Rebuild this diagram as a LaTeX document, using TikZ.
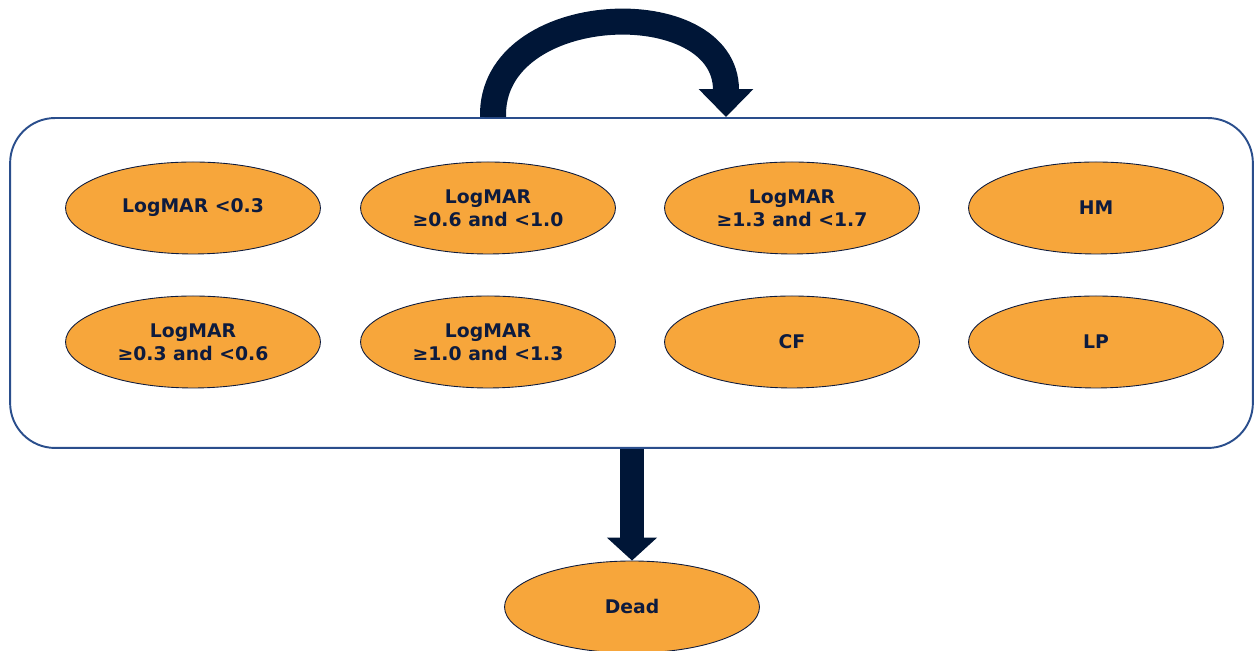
\documentclass[tikz,border=0pt]{standalone}
\usepackage{fontspec}
\setmainfont{DejaVu Sans}
\usetikzlibrary{shapes.geometric,arrows.meta}

\definecolor{stateorange}{HTML}{F7A63B}
\definecolor{navytext}{HTML}{0D1B3E}
\definecolor{arrownavy}{HTML}{001637}
\definecolor{panelblue}{HTML}{2A4E8C}

\tikzset{
  visionstate/.style={ellipse, draw=navytext, line width=0.5pt, fill=stateorange,
    minimum width=5.1cm, minimum height=1.84cm, inner sep=0pt, align=center,
    text=navytext, font=\fontsize{10.7}{13}\selectfont\bfseries},
  bigarrow/.style={draw=arrownavy, line width=#1}
}

\begin{document}
\begin{tikzpicture}[x=0.02cm, y=0.02cm]
    \useasboundingbox (0,0) rectangle (1258,651);

    % outer panel
    \node[draw=panelblue, line width=1.1pt, rounded corners=0.9cm,
          minimum width=24.86cm, minimum height=6.6cm] (panel) at (631.5,368) {};

    % first row
    \node[visionstate] (lt03)   at (193,443) {LogMAR \textless0.3};
    \node[visionstate] (l06)    at (488,443) {LogMAR\\≥0.6 and \textless1.0};
    \node[visionstate] (l13)    at (792,443) {LogMAR\\≥1.3 and \textless1.7};
    \node[visionstate] (hm)     at (1096,443) {HM};

    % second row
    \node[visionstate] (l03)    at (193,309) {LogMAR\\≥0.3 and \textless0.6};
    \node[visionstate] (l10)    at (488,309) {LogMAR\\≥1.0 and \textless1.3};
    \node[visionstate] (cf)     at (792,309) {CF};
    \node[visionstate] (lp)     at (1096,309) {LP};

    \node[visionstate] (dead)   at (632,44) {Dead};

    % transitions
    \coordinate (loopL) at (panel.north -| 493,0);
    \coordinate (loopR) at (panel.north -| 726,0);
    \draw[bigarrow=0.52cm, -{Triangle[width=1.06cm,length=0.56cm]}]
        (loopL) .. controls (490,652) and (726,660) .. (726,561) -- (loopR);
    \draw[bigarrow=0.48cm, -{Triangle[width=0.98cm,length=0.46cm]}]
        (panel.south -| dead.north) -- (dead.north);
\end{tikzpicture}
\end{document}
